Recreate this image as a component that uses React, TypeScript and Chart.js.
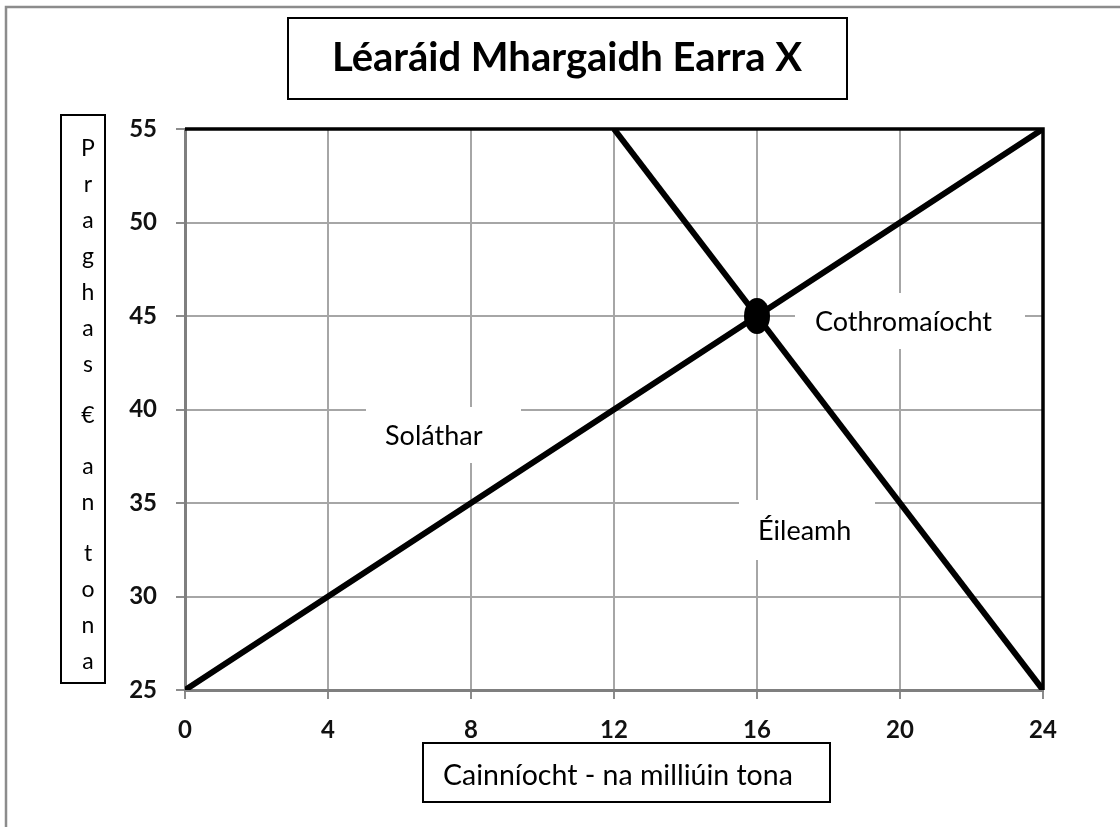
import React, { useEffect, useRef } from "react";
import { Chart, registerables } from "chart.js";

Chart.register(...registerables);

// ---- data ----
const quantityTicks = [0, 4, 8, 12, 16, 20, 24];
const priceTicks = [25, 30, 35, 40, 45, 50, 55];
const supplyQty = [0, 4, 8, 12, 16, 20, 24];
const supplyPrice = [25, 30, 35, 40, 45, 50, 55];
const demandQty = [12, 16, 20, 24];
const demandPrice = [55, 45, 35, 25];
const equilibriumQty = [16];
const equilibriumPrice = [45];

// ---- text ----
const titleText = "Léaráid Mhargaidh Earra X";
const yTitleLines = ["P", "r", "a", "g", "h", "a", "s", "", "€", "", "a", "n", "", "t", "o", "n", "a"];
const xTitleText = "Cainníocht - na milliúin tona";
const supplyLabel = "Soláthar";
const equilibriumLabel = "Cothromaíocht";
const demandLabel = "Éileamh";

const FONT = "Lato, 'Open Sans', sans-serif";

function makeDot(): HTMLCanvasElement {
  const c = document.createElement("canvas");
  c.width = 28;
  c.height = 38;
  const g = c.getContext("2d")!;
  g.fillStyle = "#000";
  g.beginPath();
  g.ellipse(14, 19, 13, 18, 0, 0, Math.PI * 2);
  g.fill();
  return c;
}

const decorPlugin = {
  id: "decor",
  beforeDraw(chart: any) {
    const ctx: CanvasRenderingContext2D = chart.ctx;
    ctx.save();
    ctx.fillStyle = "#fff";
    ctx.fillRect(0, 0, chart.width, chart.height);
    // outer frame (top + left)
    ctx.strokeStyle = "#8c8c8c";
    ctx.lineWidth = 2.5;
    ctx.beginPath();
    ctx.moveTo(6, chart.height);
    ctx.lineTo(6, 7);
    ctx.lineTo(chart.width, 7);
    ctx.stroke();

    ctx.strokeStyle = "#000";
    ctx.lineWidth = 2;
    ctx.fillStyle = "#000";
    // title box
    ctx.strokeRect(288, 18, 559, 81);
    ctx.font = `bold 40px ${FONT}`;
    ctx.textAlign = "center";
    ctx.textBaseline = "alphabetic";
    ctx.fillText(titleText, 567, 71);

    // y title box
    ctx.strokeRect(61, 115, 44, 568);
    ctx.font = `23px ${FONT}`;
    let y = 156;
    for (const ch of yTitleLines) {
      if (ch === "") {
        y += 15;
        continue;
      }
      ctx.fillText(ch, 88, y);
      y += 36;
    }

    // x title box
    ctx.strokeRect(423, 743, 407, 59);
    ctx.font = `28.5px ${FONT}`;
    ctx.textAlign = "left";
    ctx.fillText(xTitleText, 443, 785);
    ctx.restore();
  },
  beforeDatasetsDraw(chart: any) {
    const ctx: CanvasRenderingContext2D = chart.ctx;
    ctx.save();
    ctx.font = `27px ${FONT}`;
    ctx.textAlign = "left";
    ctx.textBaseline = "alphabetic";
    const boxes: [string, number, number, number, number, number, number][] = [
      [supplyLabel, 366, 407, 155, 56, 385, 445],
      [equilibriumLabel, 795, 293, 230, 56, 815, 331],
      [demandLabel, 739, 500, 136, 60, 758, 540],
    ];
    for (const [t, bx, by, bw, bh, tx, ty] of boxes) {
      ctx.fillStyle = "#fff";
      ctx.fillRect(bx, by, bw, bh);
      ctx.fillStyle = "#000";
      ctx.fillText(t, tx, ty);
    }
    ctx.restore();
  },
  afterDatasetsDraw(chart: any) {
    const ctx: CanvasRenderingContext2D = chart.ctx;
    const a = chart.chartArea;
    ctx.save();
    ctx.strokeStyle = "#000";
    ctx.lineWidth = 3.5;
    ctx.beginPath();
    ctx.moveTo(a.left, a.top);
    ctx.lineTo(a.right, a.top);
    ctx.lineTo(a.right, a.bottom);
    ctx.stroke();
    ctx.restore();
  },
};

export default function App() {
  const ref = useRef<HTMLCanvasElement | null>(null);

  useEffect(() => {
    if (!ref.current) return;
    const dot = makeDot();
    const tickFont = { family: FONT, size: 24, weight: "bold" as const };
    const chart = new Chart(ref.current, {
      type: "line",
      data: {
        datasets: [
          {
            label: "Soláthar",
            data: supplyQty.map((q, i) => ({ x: q, y: supplyPrice[i] })),
            borderColor: "#000",
            borderWidth: 6,
            pointRadius: 0,
            tension: 0,
          },
          {
            label: "Éileamh",
            data: demandQty.map((q, i) => ({ x: q, y: demandPrice[i] })),
            borderColor: "#000",
            borderWidth: 6,
            pointRadius: 0,
            tension: 0,
          },
          {
            label: "Cothromaíocht",
            data: equilibriumQty.map((q, i) => ({ x: q, y: equilibriumPrice[i] })),
            showLine: false,
            pointStyle: dot as any,
            pointRadius: 14,
            borderColor: "#000",
            backgroundColor: "#000",
          },
        ],
      },
      options: {
        responsive: false,
        animation: false,
        devicePixelRatio: 1,
        events: [],
        layout: { padding: { top: 129, right: 77, left: 0, bottom: 0 } },
        plugins: { legend: { display: false }, tooltip: { enabled: false }, title: { display: false } },
        scales: {
          x: {
            type: "linear",
            min: 0,
            max: 24,
            afterBuildTicks: (s: any) => {
              s.ticks = quantityTicks.map((v) => ({ value: v }));
            },
            afterFit: (s: any) => {
              s.height = 137;
            },
            ticks: { font: tickFont, color: "#111", padding: 17 },
            grid: { color: "#a6a6a6", lineWidth: 2, tickLength: 9, tickColor: "#8c8c8c" },
            border: { color: "#7f7f7f", width: 3 },
          },
          y: {
            type: "linear",
            min: 25,
            max: 55,
            afterBuildTicks: (s: any) => {
              s.ticks = priceTicks.map((v) => ({ value: v }));
            },
            afterFit: (s: any) => {
              s.width = 185;
            },
            ticks: { font: tickFont, color: "#111", padding: 19 },
            grid: { color: "#a6a6a6", lineWidth: 2, tickLength: 9, tickColor: "#8c8c8c" },
            border: { color: "#7f7f7f", width: 3 },
          },
        },
      },
      plugins: [decorPlugin],
    });
    return () => chart.destroy();
  }, []);

  return (
    <div style={{ position: "absolute", left: 0, top: 0, width: 1120, height: 827, background: "#fff" }}>
      <canvas ref={ref} width={1120} height={827} style={{ display: "block" }} />
    </div>
  );
}
